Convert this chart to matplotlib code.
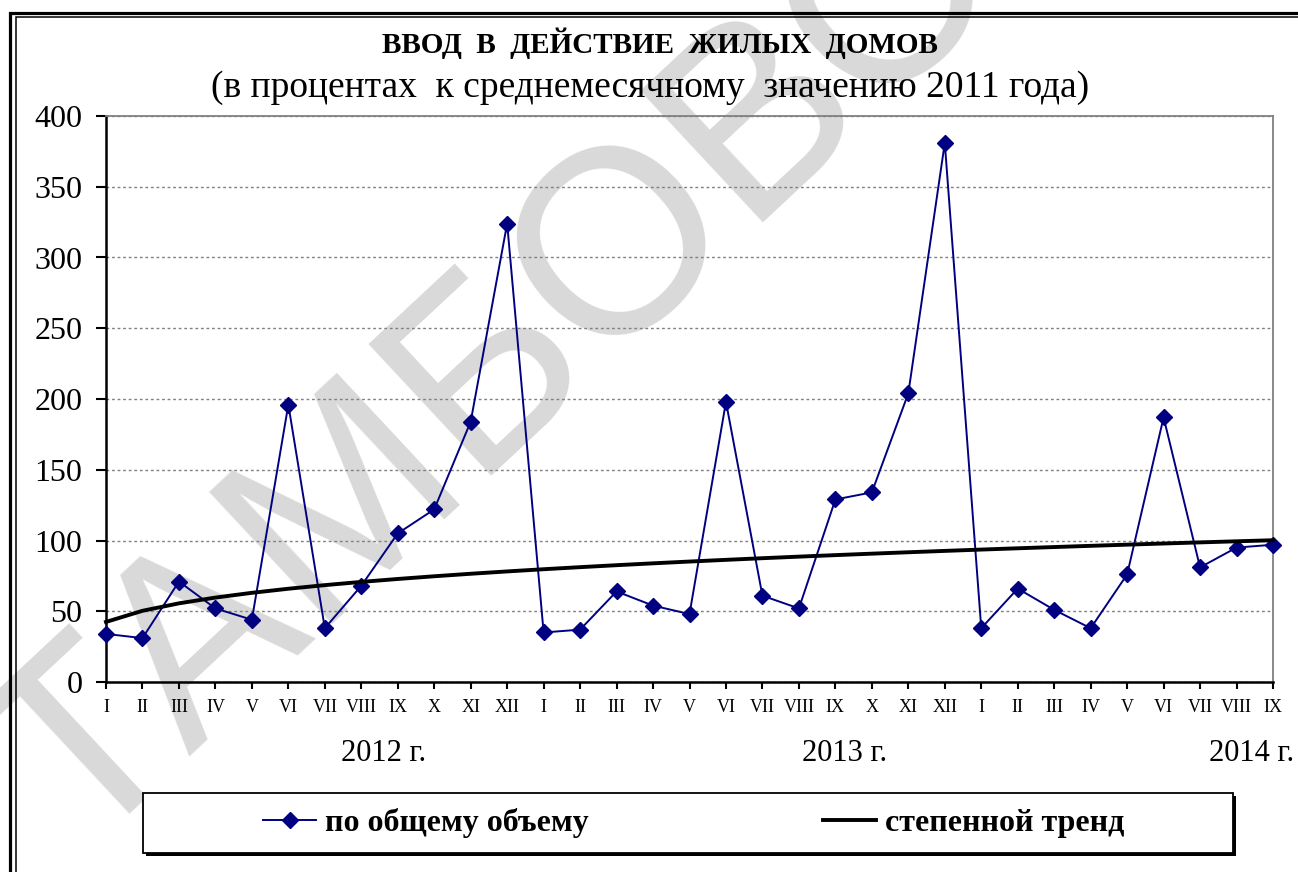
import numpy as np
import matplotlib.pyplot as plt
import matplotlib.transforms as mtransforms
from matplotlib.patches import Rectangle

months = ['I', 'II', 'III', 'IV', 'V', 'VI', 'VII', 'VIII', 'IX', 'X', 'XI', 'XII']
tick_labels = months + months + months[:9]
years = ['2012 г.', '2013 г.', '2014 г.']
values = [34, 31, 71, 52, 44, 196, 38, 68, 105, 122, 184, 324,
          35, 37, 64, 54, 48, 198, 61, 52, 129, 134, 204, 381,
          38, 66, 51, 38, 76, 187, 81, 95, 97]

plt.rcParams['font.family'] = ['Liberation Serif', 'DejaVu Serif']

W, H = 1298, 872
fig = plt.figure(figsize=(W / 100, H / 100), dpi=100)
fig.patch.set_facecolor('white')

# watermark
fig.text(662 / W, 1 - 218 / H, 'ТАМБОВСТАТ', fontsize=188, rotation=43,
         color='#d9d9d9', ha='center', va='center', family='Liberation Sans',
         rotation_mode='anchor', zorder=-5)

ax = fig.add_axes([106 / W, 1 - 682 / H, (1273 - 106) / W, (682 - 116) / H])
ax.patch.set_alpha(0)

x = np.arange(1, len(values) + 1)
# power trend (y = a * x^b), fitted like Excel does it
b, lna = np.polyfit(np.log(x), np.log(values), 1)
trend = np.exp(lna) * x ** b

l1, = ax.plot(x, values, color='#000080', lw=1.4, marker='D', ms=8,
              clip_on=False, zorder=3)
l2, = ax.plot(x, trend, color='black', lw=2.8, clip_on=False, zorder=4)

ax.set_xlim(1, len(values))
ax.set_ylim(0, 400)
ax.set_yticks(range(0, 401, 50))
ax.set_xticks(x)
ax.set_xticklabels(tick_labels)
ax.yaxis.grid(True, ls=(0, (2, 2)), color='#808080', lw=1)
ax.tick_params(axis='y', direction='out', length=7, width=1.5, labelsize=23, pad=10)
ax.tick_params(axis='x', direction='out', length=5, width=1.5, labelsize=13, pad=7)
for s in ['left', 'bottom']:
    ax.spines[s].set_color('black')
    ax.spines[s].set_linewidth(1.8)
for s in ['top', 'right']:
    ax.spines[s].set_color('#808080')
    ax.spines[s].set_linewidth(1.3)

trans = mtransforms.blended_transform_factory(ax.transData, ax.transAxes)
for yr, xp in zip(years, [8.62, 21.24, 32.4]):
    ax.text(xp, -0.127, yr, transform=trans, ha='center', va='center', fontsize=22)

fig.text(660 / W, 1 - 43 / H, 'ВВОД  В  ДЕЙСТВИЕ  ЖИЛЫХ  ДОМОВ', fontsize=21,
         weight='bold', ha='center', va='center')
fig.text(650 / W, 1 - 88 / H, '(в процентах  к среднемесячному  значению 2011 года)',
         fontsize=27, ha='center', va='center')

# outer double frame
fig.add_artist(Rectangle((9.5 / W, -0.05), 1.2, 1 - 13.3 / H + 0.05, fill=False,
                         edgecolor='black', lw=2.3, transform=fig.transFigure))
fig.add_artist(Rectangle((15.8 / W, -0.05), 1.2, 1 - 17.5 / H + 0.05, fill=False,
                         edgecolor='black', lw=1.1, transform=fig.transFigure))

# legend box with shadow
fig.add_artist(Rectangle((146 / W, 1 - 856 / H), 1090 / W, 60 / H, facecolor='black',
                         edgecolor='black', lw=0, transform=fig.transFigure, zorder=5))
fig.add_artist(Rectangle((143 / W, 1 - 853 / H), 1090 / W, 60 / H, facecolor='white',
                         edgecolor='black', lw=1.3, transform=fig.transFigure, zorder=6))
leg = fig.legend([l1, l2], ['по общему объему', 'степенной тренд'], loc='center',
                 bbox_to_anchor=(263 / W, 1 - 838 / H, (1124 - 263) / W, 30 / H),
                 mode='expand', ncol=2, frameon=False, borderpad=0, borderaxespad=0,
                 handlelength=1.66, handletextpad=0.28,
                 prop={'weight': 'bold', 'size': 23})
leg.set_zorder(7)

fig.savefig('out.png', dpi=100)
